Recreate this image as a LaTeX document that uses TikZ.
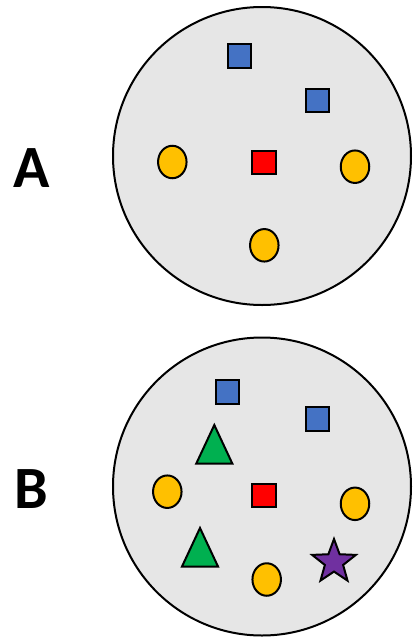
\documentclass[tikz,border=0pt]{standalone}
\usepackage{fontspec}
\setmainfont{Carlito}
\usetikzlibrary{shapes.geometric}
\definecolor{plate}{HTML}{E6E6E6}
\definecolor{sqblue}{HTML}{4472C4}
\definecolor{sqred}{HTML}{FF0000}
\definecolor{dotyel}{HTML}{FFC000}
\definecolor{trigreen}{HTML}{00B050}
\definecolor{starpur}{HTML}{7030A0}
\begin{document}
\begin{tikzpicture}[x=1pt, y=-1pt, line width=2pt,
  plate/.style = {draw, circle, fill=plate, minimum size=298pt, inner sep=0pt},
  sq/.style = {draw, rectangle, minimum size=23.5pt, inner sep=0pt},
  dot/.style = {draw, ellipse, fill=dotyel, minimum width=28.5pt, minimum height=32.5pt, inner sep=0pt},
  tri/.style = {draw, fill=trigreen, line join=miter},
  lab/.style = {font=\fontsize{60}{64}\selectfont\bfseries}]
\useasboundingbox (0,0) rectangle (413,638);
% A
\node[plate] (pa) at (262,156) {};
\node[lab] (la) at (31.5,168) {A};
\node[sq, fill=sqblue] (a1) at (239.5,56) {};
\node[sq, fill=sqblue] (a2) at (317.5,100.5) {};
\node[sq, fill=sqred] (a3) at (264,162.5) {};
\node[dot] (a4) at (172.3,162) {};
\node[dot] (a5) at (355,166.7) {};
\node[dot] (a6) at (264.3,245.3) {};
% B
\node[plate] (pb) at (262,486.5) {};
\node[lab] (lb) at (31.5,489) {B};
\node[sq, fill=sqblue] (b1) at (227.5,392) {};
\node[sq, fill=sqblue] (b2) at (317.5,419) {};
\node[sq, fill=sqred] (b3) at (264,495.7) {};
\node[dot] (b4) at (167.3,491.7) {};
\node[dot] (b5) at (355,503.8) {};
\node[dot] (b6) at (266.7,579.5) {};
\node[draw, star, star points=5, star point ratio=2.4, fill=starpur, minimum size=46pt, inner sep=0pt] (b7) at (334,562) {};
\coordinate (t1) at (214.3,444.5);
\coordinate (t2) at (200,547.5);
\draw[tri] (t1) ++(0,-19.5) -- ++(18,38.5) -- ++(-36,0) -- cycle;
\draw[tri] (t2) ++(0,-19.5) -- ++(18,38.5) -- ++(-36,0) -- cycle;
\end{tikzpicture}
\end{document}
